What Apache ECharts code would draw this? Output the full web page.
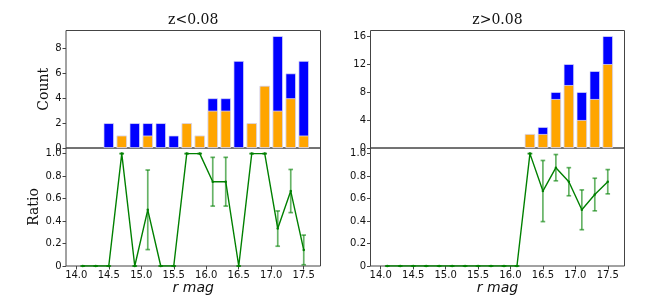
<!DOCTYPE html>
<html>
<head>
<meta charset="utf-8">
<script src="https://cdn.jsdelivr.net/npm/echarts@6/dist/echarts.min.js"></script>
<style>html,body{margin:0;padding:0;background:#fff}#c{width:664px;height:303px}</style>
</head>
<body>
<div id="c"></div>
<script>
// ---- data ----
var binCenters = [14.1,14.3,14.5,14.7,14.9,15.1,15.3,15.5,15.7,15.9,16.1,16.3,16.5,16.7,16.9,17.1,17.3,17.5];
var lowZTotal  = [0,0,2,1,2,2,2,1,2,1,4,4,7,2,5,9,6,7];
var lowZSub    = [0,0,0,1,0,1,0,0,2,1,3,3,0,2,5,3,4,1];
var lowZRatio  = [0,0,0,1,0,0.5,0,0,1,1,0.75,0.75,0,1,1,0.333,0.667,0.143];
var lowZErr    = [0,0,0,0,0,0.354,0,0,0,0,0.217,0.217,0,0,0,0.157,0.192,0.132];
var highZTotal = [0,0,0,0,0,0,0,0,0,0,0,2,3,8,12,8,11,16];
var highZSub   = [0,0,0,0,0,0,0,0,0,0,0,2,2,7,9,4,7,12];
var highZRatio = [0,0,0,0,0,0,0,0,0,0,0,1,0.667,0.875,0.75,0.5,0.636,0.75];
var highZErr   = [0,0,0,0,0,0,0,0,0,0,0,0,0.272,0.117,0.125,0.177,0.145,0.108];
var xTicks = [14.0,14.5,15.0,15.5,16.0,16.5,17.0,17.5];
var countTicksLeft = [0,2,4,6,8];
var countTicksRight = [0,4,8,12,16];
var ratioTicks = [0,0.2,0.4,0.6,0.8,1.0];
var titles = ['z<0.08','z>0.08'];

// ---- chart ----
var XMIN = 13.842, XMAX = 17.758;
var frame = '#444';
var tickFont = {fontSize:10, color:'#111', fontFamily:'DejaVu Sans'};
function pairs(xs, ys){ return xs.map(function(x,i){ return [x, ys[i]]; }); }
function barPairs(xs, ys){ return xs.map(function(x,i){ return ys[i] === 0 ? [x, '-'] : [x, ys[i]]; }); }
function triples(xs, ys, es){ return xs.map(function(x,i){ return [x, ys[i], es[i]]; }); }

var grids = [
  {left:66, top:30.5, width:254.5, height:117.5},
  {left:66, top:148, width:254.5, height:118},
  {left:370.5, top:30.5, width:254, height:117.5},
  {left:370.5, top:148, width:254, height:118}
].map(function(g){ return Object.assign({show:true, borderColor:frame, borderWidth:1, backgroundColor:'transparent', containLabel:false}, g); });

function xAxisTop(gi){
  return {type:'value', gridIndex:gi, min:XMIN, max:XMAX,
    axisLine:{show:false}, splitLine:{show:false}, axisTick:{show:false}, axisLabel:{show:false}};
}
function xAxisBottom(gi){
  return {type:'value', gridIndex:gi, min:XMIN, max:XMAX,
    axisLine:{show:false}, splitLine:{show:false},
    axisTick:{show:true, customValues:xTicks, length:3.5, lineStyle:{color:frame, width:1}},
    axisLabel:Object.assign({customValues:xTicks, margin:4.5, formatter:function(v){return v.toFixed(1);}}, tickFont),
    name:'r mag', nameLocation:'middle', nameGap:14,
    nameTextStyle:{fontSize:14, fontStyle:'italic', fontFamily:'DejaVu Sans', color:'#111'}};
}
function yAxis(gi, max, ticks, fmt, name, gap){
  return {type:'value', gridIndex:gi, min:0, max:max,
    axisLine:{show:false}, splitLine:{show:false},
    axisTick:{show:true, customValues:ticks, length:3.5, lineStyle:{color:frame, width:1}},
    axisLabel:Object.assign({customValues:ticks, margin:4.5, formatter:fmt}, tickFont),
    name:name, nameLocation:'middle', nameGap:gap,
    nameTextStyle:{fontSize:14, fontFamily:'DejaVu Serif', color:'#111'}};
}
var intFmt = function(v){ return String(Math.round(v)); };
var ratioFmt = function(v){ return v === 0 ? '0' : v.toFixed(1); };

function errRender(params, api){
  var x = api.value(0), y = api.value(1), e = api.value(2);
  var t = api.coord([x, y + e]), b = api.coord([x, y - e]);
  var w = 2.3;
  var st = {stroke:'rgba(0,128,0,0.6)', lineWidth:1.7};
  return {type:'group', children:[
    {type:'line', shape:{x1:t[0], y1:t[1], x2:b[0], y2:b[1]}, style:st},
    {type:'line', shape:{x1:t[0]-w, y1:t[1], x2:t[0]+w, y2:t[1]}, style:st},
    {type:'line', shape:{x1:b[0]-w, y1:b[1], x2:b[0]+w, y2:b[1]}, style:st}
  ]};
}

function barSeries(ai, data, color){
  return {type:'bar', xAxisIndex:ai, yAxisIndex:ai, data:data, barWidth:10.4, barGap:'-100%',
    itemStyle:{color:color, borderColor:'rgba(225,225,245,0.9)', borderWidth:0.8}, silent:true, animation:false};
}
function lineSeries(ai, data){
  return {type:'line', xAxisIndex:ai, yAxisIndex:ai, data:data, symbol:'circle', symbolSize:2.5,
    lineStyle:{color:'#008000', width:1.4}, itemStyle:{color:'#008000'}, animation:false, z:3};
}
function errSeries(ai, data){
  return {type:'custom', xAxisIndex:ai, yAxisIndex:ai, data:data, renderItem:errRender,
    encode:{x:0, y:1}, animation:false, z:4};
}

var option = {
  animation:false,
  title:[
    {text:titles[0], left:193.25, top:13, textAlign:'center', padding:0,
      textStyle:{fontSize:14, fontWeight:'normal', fontFamily:'DejaVu Serif', color:'#111'}},
    {text:titles[1], left:497.5, top:13, textAlign:'center', padding:0,
      textStyle:{fontSize:14, fontWeight:'normal', fontFamily:'DejaVu Serif', color:'#111'}}
  ],
  grid:grids,
  xAxis:[xAxisTop(0), xAxisBottom(1), xAxisTop(2), xAxisBottom(3)],
  yAxis:[
    yAxis(0, 9.45, countTicksLeft, intFmt, 'Count', 13),
    yAxis(1, 1.05, ratioTicks, ratioFmt, 'Ratio', 22),
    yAxis(2, 16.8, countTicksRight, intFmt, '', 13),
    yAxis(3, 1.05, ratioTicks, ratioFmt, '', 22)
  ],
  series:[
    barSeries(0, barPairs(binCenters, lowZTotal), '#0000ff'),
    barSeries(0, barPairs(binCenters, lowZSub), '#ffa500'),
    lineSeries(1, pairs(binCenters, lowZRatio)),
    errSeries(1, triples(binCenters, lowZRatio, lowZErr)),
    barSeries(2, barPairs(binCenters, highZTotal), '#0000ff'),
    barSeries(2, barPairs(binCenters, highZSub), '#ffa500'),
    lineSeries(3, pairs(binCenters, highZRatio)),
    errSeries(3, triples(binCenters, highZRatio, highZErr))
  ]
};
var chart = echarts.init(document.getElementById('c'), null, {renderer:'canvas'});
chart.setOption(option);
</script>
</body>
</html>
